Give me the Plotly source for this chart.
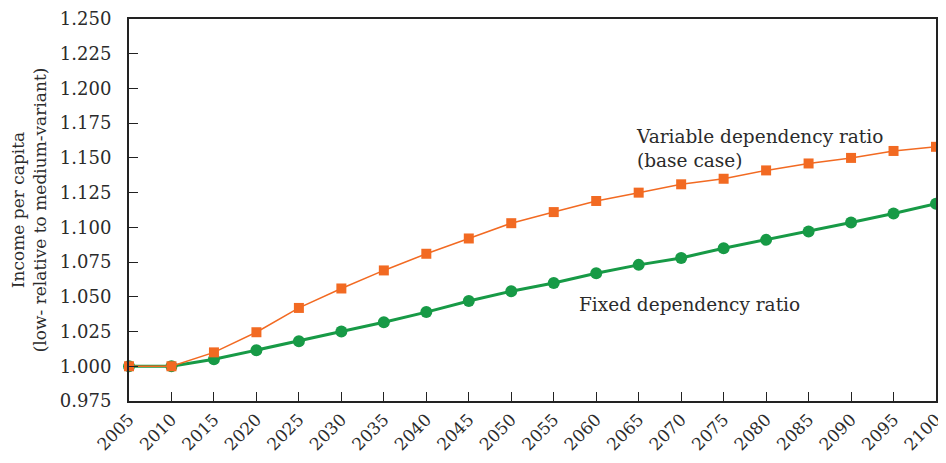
import plotly.graph_objects as go

years = list(range(2005, 2101, 5))
variable_ratio = [1.000, 1.000, 1.010, 1.0245, 1.042, 1.056, 1.069, 1.081, 1.092, 1.103,
                  1.111, 1.119, 1.125, 1.131, 1.135, 1.141, 1.146, 1.150, 1.155, 1.158]
fixed_ratio = [1.000, 1.000, 1.005, 1.0115, 1.018, 1.025, 1.0317, 1.039, 1.047, 1.054,
               1.060, 1.067, 1.073, 1.078, 1.085, 1.091, 1.097, 1.1035, 1.110, 1.117]
y_ticks = [0.975, 1.000, 1.025, 1.050, 1.075, 1.100, 1.125, 1.150, 1.175, 1.200, 1.225, 1.250]

FONT = "DejaVu Serif"
TXT = "#2b2b2b"
ORANGE = "#f26a22"
GREEN = "#179a46"

fig = go.Figure()
fig.add_trace(go.Scatter(
    x=years, y=fixed_ratio, mode="lines+markers", cliponaxis=False,
    line=dict(color=GREEN, width=3),
    marker=dict(symbol="circle", size=12, color=GREEN),
    name="Fixed dependency ratio"))
fig.add_trace(go.Scatter(
    x=years, y=variable_ratio, mode="lines+markers", cliponaxis=False,
    line=dict(color=ORANGE, width=1.5),
    marker=dict(symbol="square", size=10, color=ORANGE),
    name="Variable dependency ratio"))

fig.add_annotation(x=2064.5, y=1.157, xref="x", yref="y", xanchor="left", yanchor="middle",
                   text="Variable dependency ratio<br>(base case)", showarrow=False, align="left",
                   font=dict(family=FONT, size=18.5, color=TXT))
fig.add_annotation(x=2057.7, y=1.0448, xref="x", yref="y", xanchor="left", yanchor="middle",
                   text="Fixed dependency ratio", showarrow=False, align="left",
                   font=dict(family=FONT, size=18.5, color=TXT))

# page body has an 8px margin: compensate so the plot lands where the reference has it
fig.update_layout(
    width=938, height=455,
    margin=dict(l=121, r=10, t=11, b=62),
    paper_bgcolor="white", plot_bgcolor="white",
    showlegend=False,
    font=dict(family=FONT, size=18, color=TXT),
    xaxis=dict(range=[2005, 2100], tickmode="array", tickvals=years,
               ticktext=[str(y) for y in years], tickangle=-45, automargin=False,
               ticks="inside", ticklen=9, tickwidth=1.2, tickcolor="#222",
               showline=True, linecolor="#222", linewidth=2, mirror=True,
               showgrid=False, zeroline=False,
               tickfont=dict(family=FONT, size=17, color=TXT)),
    yaxis=dict(range=[0.975, 1.25], tickmode="array", tickvals=y_ticks,
               ticktext=[f"{v:.3f}" for v in y_ticks], automargin=False,
               ticks="inside", ticklen=9, tickwidth=1.2, tickcolor="#222",
               ticklabelstandoff=12,
               showline=True, linecolor="#222", linewidth=2, mirror=True,
               showgrid=False, zeroline=False,
               title=dict(text="Income per capita<br>(low- relative to medium-variant)",
                          font=dict(family=FONT, size=17, color=TXT), standoff=9),
               tickfont=dict(family=FONT, size=18, color=TXT)),
)

fig.write_html("out.html")
